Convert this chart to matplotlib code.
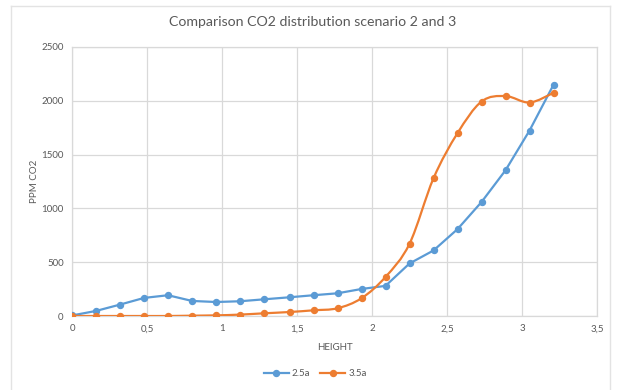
import matplotlib
matplotlib.use("Agg")
import matplotlib.pyplot as plt
import numpy as np
from matplotlib.path import Path
from matplotlib.patches import PathPatch
from matplotlib.lines import Line2D

# Measurement heights (m) and CO2 concentration (ppm)
height = [0.00, 0.16, 0.32, 0.48, 0.64, 0.80, 0.96, 1.12, 1.28, 1.45, 1.61,
          1.77, 1.93, 2.09, 2.25, 2.41, 2.57, 2.73, 2.89, 3.05, 3.21]
ppm_25a = [5, 47, 106, 168, 193, 140, 130, 137, 155, 174, 193,
           211, 251, 280, 488, 609, 807, 1059, 1354, 1723, 2149]
ppm_35a = [0, 0, 0, 0, 0, 3, 6, 13, 25, 37, 53,
           72, 165, 363, 671, 1280, 1699, 1993, 2044, 1984, 2074]

series_names = ["2.5a", "3.5a"]
x_ticks = [0, 0.5, 1, 1.5, 2, 2.5, 3, 3.5]
x_tick_labels = ["0", "0,5", "1", "1,5", "2", "2,5", "3", "3,5"]
y_ticks = [0, 500, 1000, 1500, 2000, 2500]
y_tick_labels = ["0", "500", "1000", "1500", "2000", "2500"]

BLUE = "#5B9BD5"
ORANGE = "#ED7D31"
TEXT = "#595959"
GRID = "#D9D9D9"
FONT = "Lato"

plt.rcParams["font.family"] = [FONT, "DejaVu Sans"]

W, H = 617, 390
fig = plt.figure(figsize=(W / 100, H / 100), dpi=100)
fig.patch.set_facecolor("white")

# chart-area frame
frame_kw = dict(transform=fig.transFigure, color="#E3E3E3", lw=1)
fig.add_artist(Line2D([11 / W, 11 / W], [0, 1 - 6 / H], **frame_kw))
fig.add_artist(Line2D([11 / W, 610 / W], [1 - 6 / H, 1 - 6 / H], **frame_kw))
fig.add_artist(Line2D([610 / W, 610 / W], [0, 1 - 6 / H], **frame_kw))

left, right, top, bottom = 72, 597, 47, 316
ax = fig.add_axes([left / W, 1 - bottom / H, (right - left) / W, (bottom - top) / H])


def smooth_path(xs, ys):
    """Cubic Bezier through all points (Catmull-Rom style, like spreadsheet smoothing)."""
    p = np.column_stack([xs, ys]).astype(float)
    n = len(p)
    verts = [p[0]]
    codes = [Path.MOVETO]
    for i in range(n - 1):
        p0 = p[i - 1] if i > 0 else p[i]
        p1 = p[i]
        p2 = p[i + 1]
        p3 = p[i + 2] if i + 2 < n else p[i + 1]
        c1 = p1 + (p2 - p0) / 6.0
        c2 = p2 - (p3 - p1) / 6.0
        verts += [c1, c2, p2]
        codes += [Path.CURVE4] * 3
    return Path(verts, codes)


# 2.5a: straight segments
ax.plot(height, ppm_25a, color=BLUE, lw=1.6, marker="o", ms=4.3, zorder=3,
        solid_capstyle="round")

# 3.5a: smoothed curve with markers
ax.add_patch(PathPatch(smooth_path(height, ppm_35a), facecolor="none",
                       edgecolor=ORANGE, lw=1.6, zorder=3))
ax.plot(height, ppm_35a, linestyle="none", color=ORANGE, marker="o", ms=4.3, zorder=4)

ax.set_xlim(0, 3.5)
ax.set_ylim(0, 2500)
ax.set_xticks(x_ticks)
ax.set_xticklabels(x_tick_labels)
ax.set_yticks(y_ticks)
ax.set_yticklabels(y_tick_labels)
ax.tick_params(length=0, labelsize=7, colors=TEXT, pad=6)
ax.grid(True, color=GRID, lw=0.9)
ax.set_axisbelow(True)
for s in ax.spines.values():
    s.set_color(GRID)
    s.set_linewidth(0.9)

ax.set_xlabel("HEIGHT", fontsize=7, color=TEXT, labelpad=7)
ax.set_ylabel("PPM CO2", fontsize=7, color=TEXT, labelpad=2)

fig.text(313 / W, 1 - 22 / H, "Comparison CO2 distribution scenario 2 and 3",
         ha="center", va="center", fontsize=10.2, color=TEXT)

handles = [Line2D([], [], color=BLUE, lw=1.6, marker="o", ms=4.3),
           Line2D([], [], color=ORANGE, lw=1.6, marker="o", ms=4.3)]
leg = fig.legend(handles, series_names, loc="center", bbox_to_anchor=(315 / W, 1 - 374 / H),
                 ncol=2, frameon=False, fontsize=7, handlelength=2.6, handletextpad=0.3,
                 columnspacing=1.0)
for t in leg.get_texts():
    t.set_color(TEXT)

fig.savefig("out.png", dpi=100, facecolor="white")
